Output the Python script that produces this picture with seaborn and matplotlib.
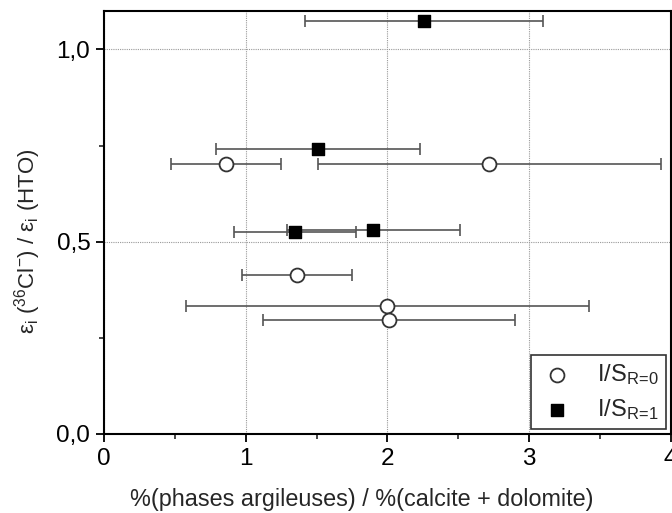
import numpy as np
import pandas as pd
import seaborn as sns
import matplotlib.pyplot as plt
from matplotlib.ticker import MultipleLocator, FuncFormatter

# Données : I/S R=0 (cercles ouverts) et I/S R=1 (carrés pleins)
x_r0 = [0.86, 2.72, 1.36, 2.00, 2.01]
y_r0 = [0.701, 0.701, 0.413, 0.332, 0.296]
xerr_r0 = [0.39, 1.21, 0.39, 1.42, 0.89]

x_r1 = [2.26, 1.51, 1.35, 1.90]
y_r1 = [1.073, 0.740, 0.525, 0.530]
xerr_r1 = [0.84, 0.72, 0.43, 0.61]

labels = [r'I/S$_\mathregular{R\!=\!0}$', r'I/S$_\mathregular{R\!=\!1}$']

df_r0 = pd.DataFrame({'x': x_r0, 'y': y_r0, 'xerr': xerr_r0})
df_r1 = pd.DataFrame({'x': x_r1, 'y': y_r1, 'xerr': xerr_r1})

sns.set_style('ticks')
plt.rcParams['font.family'] = ['Liberation Sans', 'DejaVu Sans']
plt.rcParams['mathtext.fontset'] = 'custom'
plt.rcParams['mathtext.rm'] = 'Liberation Sans'
plt.rcParams['mathtext.it'] = 'Liberation Sans'
plt.rcParams['mathtext.default'] = 'regular'

fig = plt.figure(figsize=(6.72, 5.13), dpi=100)
ax = fig.add_axes([0.155, 0.154, 0.843, 0.8246])

# barres d'erreur horizontales
for d in (df_r0, df_r1):
    ax.errorbar(d['x'], d['y'], xerr=d['xerr'], fmt='none', ecolor='#555555',
                elinewidth=1.2, capsize=4, capthick=1.2, zorder=2)

sns.scatterplot(data=df_r0, x='x', y='y', marker='o', color='white',
                edgecolor='#333333', linewidth=1.3, s=100, label=labels[0], ax=ax, zorder=3)
sns.scatterplot(data=df_r1, x='x', y='y', marker='s', color='black',
                edgecolor='black', linewidth=1, s=80, label=labels[1], ax=ax, zorder=3)

ax.set_xlim(0, 4)
ax.set_ylim(0, 1.1)
ax.xaxis.set_major_locator(MultipleLocator(1))
ax.xaxis.set_minor_locator(MultipleLocator(0.5))
ax.yaxis.set_major_locator(MultipleLocator(0.5))
ax.yaxis.set_minor_locator(MultipleLocator(0.25))
ax.yaxis.set_major_formatter(FuncFormatter(lambda v, p: f'{v:.1f}'.replace('.', ',')))

ax.grid(True, which='major', linestyle=(0, (1, 1)), color='#999999', linewidth=0.8)
ax.tick_params(which='major', direction='out', length=6, width=1.3, labelsize=17.5,
               colors='black', pad=4)
ax.tick_params(which='minor', direction='out', length=3.5, width=1.2)
for sp in ax.spines.values():
    sp.set_linewidth(1.5)
    sp.set_color('black')

ax.set_xlabel('%(phases argileuses) / %(calcite + dolomite)', fontsize=16.8, labelpad=13, x=0.455)
ax.set_ylabel(r'$\varepsilon_{i}$ ($^{36}$Cl$^{-}$) / $\varepsilon_{i}$ (HTO)', fontsize=16,
              labelpad=10, y=0.456)

leg = ax.legend(loc='lower right', fontsize=17, frameon=True, fancybox=False,
                edgecolor='#333333', framealpha=1, handletextpad=0.9, handlelength=1.6,
                borderaxespad=0.2, labelspacing=0.45, borderpad=0.3)
leg.get_frame().set_linewidth(1.2)

fig.savefig('out.png', dpi=100)
